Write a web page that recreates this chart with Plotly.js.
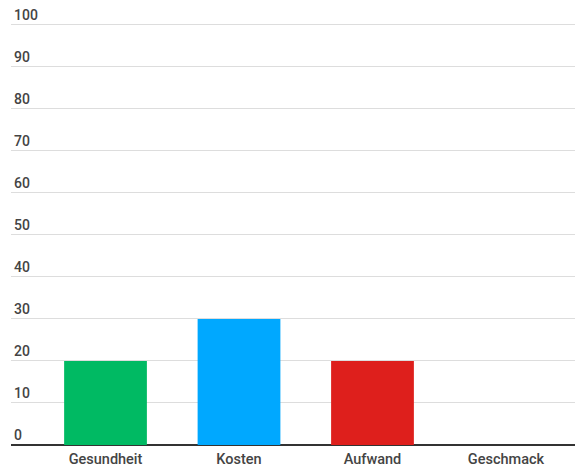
<!DOCTYPE html>
<html><head><meta charset="utf-8">
<script src="https://cdn.plot.ly/plotly-3.0.1.min.js"></script>
<style>html,body{margin:0;padding:0;background:#fff}#c{width:582px;height:475px}</style>
</head><body><div id="c"></div>
<script>
const categories = ["Gesundheit", "Kosten", "Aufwand", "Geschmack"];
const values = [20, 30, 20, 0];
const colors = ["#00BA63", "#00A8FF", "#DE1F1C", "#888888"];
const yTicks = [0, 10, 20, 30, 40, 50, 60, 70, 80, 90, 100];

const trace = {
  type: "bar",
  x: categories,
  y: values,
  width: 0.62,
  marker: {color: colors, line: {width: 0}},
  hoverinfo: "skip"
};
const layout = {
  width: 582, height: 475,
  margin: {l: 11, r: 7, t: 8, b: 30},
  paper_bgcolor: "#fff", plot_bgcolor: "#fff",
  showlegend: false,
  font: {family: "Roboto, sans-serif", color: "#444"},
  xaxis: {
    type: "category",
    range: [-0.708, 3.517],
    showgrid: false, zeroline: false,
    showline: false, ticks: "",
    tickfont: {size: 14.5, color: "#444", family: "Roboto, sans-serif", weight: 500},
    ticklabelstandoff: 3
  },
  yaxis: {
    range: [0, 104],
    tickvals: yTicks,
    ticktext: yTicks.map(String),
    ticklabelposition: "inside top",
    ticklabeloverflow: "allow",
    tickfont: {size: 14, color: "#444", family: "Roboto, sans-serif", weight: 500},
    showgrid: true, gridcolor: "#dddddd", gridwidth: 1,
    zeroline: true, zerolinecolor: "#333333", zerolinewidth: 2,
    showline: false, ticks: ""
  }
};
Plotly.newPlot("c", [trace], layout, {staticPlot: true, displayModeBar: false});
</script></body></html>
